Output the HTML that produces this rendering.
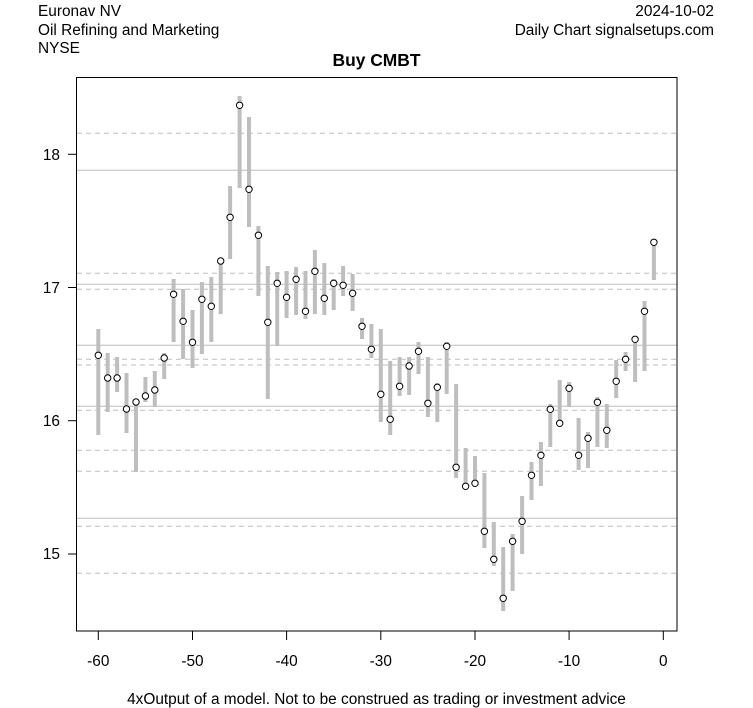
<!DOCTYPE html>
<html><head><meta charset="utf-8"><style>
html,body{margin:0;padding:0;background:#fff;}
svg{display:block;font-family:"Liberation Sans",Arial,sans-serif;}
</style></head><body>
<svg width="753" height="708" viewBox="0 0 753 708" xmlns="http://www.w3.org/2000/svg">
<rect width="753" height="708" fill="#fff"/>
<g font-size="15.4" fill="#000">
<text x="38" y="16">Euronav NV</text>
<text x="38" y="35">Oil Refining and Marketing</text>
<text x="38" y="53">NYSE</text>
<text x="714" y="16" text-anchor="end">2024-10-02</text>
<text x="714" y="35" text-anchor="end">Daily Chart signalsetups.com</text>
</g>
<text x="376.5" y="66" text-anchor="middle" font-size="17.4" font-weight="bold">Buy CMBT</text>
<g stroke="#bebebe" stroke-width="1">
<line x1="77" x2="677" y1="170.3" y2="170.3"/>
<line x1="77" x2="677" y1="284.3" y2="284.3"/>
<line x1="77" x2="677" y1="345.3" y2="345.3"/>
<line x1="77" x2="677" y1="406.3" y2="406.3"/>
<line x1="77" x2="677" y1="518.3" y2="518.3"/>
</g>
<g stroke="#bebebe" stroke-width="1" stroke-dasharray="5,4">
<line x1="77" x2="677" y1="133.3" y2="133.3"/>
<line x1="77" x2="677" y1="273.3" y2="273.3"/>
<line x1="77" x2="677" y1="289.3" y2="289.3"/>
<line x1="77" x2="677" y1="359.3" y2="359.3"/>
<line x1="77" x2="677" y1="365" y2="365"/>
<line x1="77" x2="677" y1="410.3" y2="410.3"/>
<line x1="77" x2="677" y1="450.3" y2="450.3"/>
<line x1="77" x2="677" y1="471.3" y2="471.3"/>
<line x1="77" x2="677" y1="526.3" y2="526.3"/>
<line x1="77" x2="677" y1="573.3" y2="573.3"/>
</g>
<g stroke="#bebebe" stroke-width="4">
<line x1="98.3" x2="98.3" y1="329" y2="435"/>
<line x1="107.7" x2="107.7" y1="353" y2="412"/>
<line x1="117.1" x2="117.1" y1="357" y2="392"/>
<line x1="126.5" x2="126.5" y1="373" y2="433"/>
<line x1="136.0" x2="136.0" y1="400" y2="472"/>
<line x1="145.4" x2="145.4" y1="377" y2="402"/>
<line x1="154.8" x2="154.8" y1="371" y2="407"/>
<line x1="164.2" x2="164.2" y1="353" y2="379"/>
<line x1="173.6" x2="173.6" y1="279" y2="342"/>
<line x1="183.1" x2="183.1" y1="289" y2="359"/>
<line x1="192.5" x2="192.5" y1="310" y2="368"/>
<line x1="201.9" x2="201.9" y1="282" y2="354"/>
<line x1="211.3" x2="211.3" y1="277" y2="342"/>
<line x1="220.7" x2="220.7" y1="258" y2="314"/>
<line x1="230.1" x2="230.1" y1="186" y2="259"/>
<line x1="239.6" x2="239.6" y1="96" y2="188"/>
<line x1="249.0" x2="249.0" y1="117" y2="227"/>
<line x1="258.4" x2="258.4" y1="226" y2="296"/>
<line x1="267.8" x2="267.8" y1="266" y2="399"/>
<line x1="277.2" x2="277.2" y1="272" y2="346"/>
<line x1="286.6" x2="286.6" y1="271" y2="318"/>
<line x1="296.1" x2="296.1" y1="267" y2="315"/>
<line x1="305.5" x2="305.5" y1="271" y2="319"/>
<line x1="314.9" x2="314.9" y1="250" y2="314"/>
<line x1="324.3" x2="324.3" y1="263" y2="315"/>
<line x1="333.7" x2="333.7" y1="279" y2="310"/>
<line x1="343.1" x2="343.1" y1="266" y2="296"/>
<line x1="352.6" x2="352.6" y1="274" y2="311"/>
<line x1="362.0" x2="362.0" y1="318" y2="339"/>
<line x1="371.4" x2="371.4" y1="324" y2="358"/>
<line x1="380.8" x2="380.8" y1="329" y2="422"/>
<line x1="390.2" x2="390.2" y1="361" y2="435"/>
<line x1="399.6" x2="399.6" y1="357" y2="396"/>
<line x1="409.1" x2="409.1" y1="357" y2="395"/>
<line x1="418.5" x2="418.5" y1="342" y2="374"/>
<line x1="427.9" x2="427.9" y1="357" y2="417"/>
<line x1="437.3" x2="437.3" y1="383" y2="422"/>
<line x1="446.7" x2="446.7" y1="342" y2="394"/>
<line x1="456.1" x2="456.1" y1="384" y2="478"/>
<line x1="465.6" x2="465.6" y1="448" y2="490"/>
<line x1="475.0" x2="475.0" y1="456" y2="487"/>
<line x1="484.4" x2="484.4" y1="473" y2="548"/>
<line x1="493.8" x2="493.8" y1="522" y2="566"/>
<line x1="503.2" x2="503.2" y1="547" y2="611"/>
<line x1="512.6" x2="512.6" y1="534" y2="591"/>
<line x1="522.1" x2="522.1" y1="496" y2="554"/>
<line x1="531.5" x2="531.5" y1="462" y2="500"/>
<line x1="540.9" x2="540.9" y1="442" y2="486"/>
<line x1="550.3" x2="550.3" y1="404" y2="447"/>
<line x1="559.7" x2="559.7" y1="380" y2="427"/>
<line x1="569.1" x2="569.1" y1="382" y2="407"/>
<line x1="578.6" x2="578.6" y1="418" y2="470"/>
<line x1="588.0" x2="588.0" y1="432" y2="468"/>
<line x1="597.4" x2="597.4" y1="397" y2="447"/>
<line x1="606.8" x2="606.8" y1="404" y2="448"/>
<line x1="616.2" x2="616.2" y1="360" y2="398"/>
<line x1="625.6" x2="625.6" y1="352" y2="371"/>
<line x1="635.1" x2="635.1" y1="336" y2="382"/>
<line x1="644.5" x2="644.5" y1="301" y2="371"/>
<line x1="653.9" x2="653.9" y1="240" y2="280"/>
</g>
<g fill="#fff" stroke="#000" stroke-width="1">
<circle cx="98.3" cy="355.3" r="3.2"/>
<circle cx="107.7" cy="378" r="3.2"/>
<circle cx="117.1" cy="378" r="3.2"/>
<circle cx="126.5" cy="409" r="3.2"/>
<circle cx="136.0" cy="402" r="3.2"/>
<circle cx="145.4" cy="396" r="3.2"/>
<circle cx="154.8" cy="390" r="3.2"/>
<circle cx="164.2" cy="358" r="3.2"/>
<circle cx="173.6" cy="294.3" r="3.2"/>
<circle cx="183.1" cy="321.3" r="3.2"/>
<circle cx="192.5" cy="342.3" r="3.2"/>
<circle cx="201.9" cy="299.3" r="3.2"/>
<circle cx="211.3" cy="306.3" r="3.2"/>
<circle cx="220.7" cy="261" r="3.2"/>
<circle cx="230.1" cy="217.3" r="3.2"/>
<circle cx="239.6" cy="105.3" r="3.2"/>
<circle cx="249.0" cy="189.3" r="3.2"/>
<circle cx="258.4" cy="235.3" r="3.2"/>
<circle cx="267.8" cy="322.3" r="3.2"/>
<circle cx="277.2" cy="283.3" r="3.2"/>
<circle cx="286.6" cy="297.3" r="3.2"/>
<circle cx="296.1" cy="279.3" r="3.2"/>
<circle cx="305.5" cy="311.3" r="3.2"/>
<circle cx="314.9" cy="271.3" r="3.2"/>
<circle cx="324.3" cy="298.3" r="3.2"/>
<circle cx="333.7" cy="283.3" r="3.2"/>
<circle cx="343.1" cy="285.3" r="3.2"/>
<circle cx="352.6" cy="293.3" r="3.2"/>
<circle cx="362.0" cy="326.3" r="3.2"/>
<circle cx="371.4" cy="349.3" r="3.2"/>
<circle cx="380.8" cy="394.3" r="3.2"/>
<circle cx="390.2" cy="419.3" r="3.2"/>
<circle cx="399.6" cy="386.3" r="3.2"/>
<circle cx="409.1" cy="366" r="3.2"/>
<circle cx="418.5" cy="351.3" r="3.2"/>
<circle cx="427.9" cy="403.3" r="3.2"/>
<circle cx="437.3" cy="387.3" r="3.2"/>
<circle cx="446.7" cy="346.3" r="3.2"/>
<circle cx="456.1" cy="467.3" r="3.2"/>
<circle cx="465.6" cy="486.3" r="3.2"/>
<circle cx="475.0" cy="483.3" r="3.2"/>
<circle cx="484.4" cy="531.3" r="3.2"/>
<circle cx="493.8" cy="559.3" r="3.2"/>
<circle cx="503.2" cy="598.3" r="3.2"/>
<circle cx="512.6" cy="541.3" r="3.2"/>
<circle cx="522.1" cy="521.3" r="3.2"/>
<circle cx="531.5" cy="475.3" r="3.2"/>
<circle cx="540.9" cy="455.3" r="3.2"/>
<circle cx="550.3" cy="409.3" r="3.2"/>
<circle cx="559.7" cy="423.3" r="3.2"/>
<circle cx="569.1" cy="388.3" r="3.2"/>
<circle cx="578.6" cy="455.3" r="3.2"/>
<circle cx="588.0" cy="438.3" r="3.2"/>
<circle cx="597.4" cy="402.3" r="3.2"/>
<circle cx="606.8" cy="430.3" r="3.2"/>
<circle cx="616.2" cy="381.3" r="3.2"/>
<circle cx="625.6" cy="359.3" r="3.2"/>
<circle cx="635.1" cy="339.3" r="3.2"/>
<circle cx="644.5" cy="311.3" r="3.2"/>
<circle cx="653.9" cy="242.3" r="3.2"/>
</g>
<rect x="76.5" y="77.5" width="600.5" height="553.5" fill="none" stroke="#000" stroke-width="1"/>
<g stroke="#000" stroke-width="1">
<line x1="98.3" x2="98.3" y1="631" y2="640"/>
<line x1="192.5" x2="192.5" y1="631" y2="640"/>
<line x1="286.6" x2="286.6" y1="631" y2="640"/>
<line x1="380.8" x2="380.8" y1="631" y2="640"/>
<line x1="475.0" x2="475.0" y1="631" y2="640"/>
<line x1="569.1" x2="569.1" y1="631" y2="640"/>
<line x1="663.3" x2="663.3" y1="631" y2="640"/>
<line x1="68" x2="76.5" y1="154.3" y2="154.3"/>
<line x1="68" x2="76.5" y1="287.5" y2="287.5"/>
<line x1="68" x2="76.5" y1="420.7" y2="420.7"/>
<line x1="68" x2="76.5" y1="554" y2="554"/>
</g>
<g font-size="15.4" fill="#000" text-anchor="middle">
<text x="98.3" y="666">-60</text>
<text x="192.5" y="666">-50</text>
<text x="286.6" y="666">-40</text>
<text x="380.8" y="666">-30</text>
<text x="475.0" y="666">-20</text>
<text x="569.1" y="666">-10</text>
<text x="663.3" y="666">0</text>
</g>
<g font-size="15.4" fill="#000" text-anchor="end">
<text x="60" y="160">18</text>
<text x="60" y="293">17</text>
<text x="60" y="426">16</text>
<text x="60" y="559">15</text>
</g>
<text x="376.5" y="704" text-anchor="middle" font-size="15.4">4xOutput of a model. Not to be construed as trading or investment advice</text>
</svg>
</body></html>
